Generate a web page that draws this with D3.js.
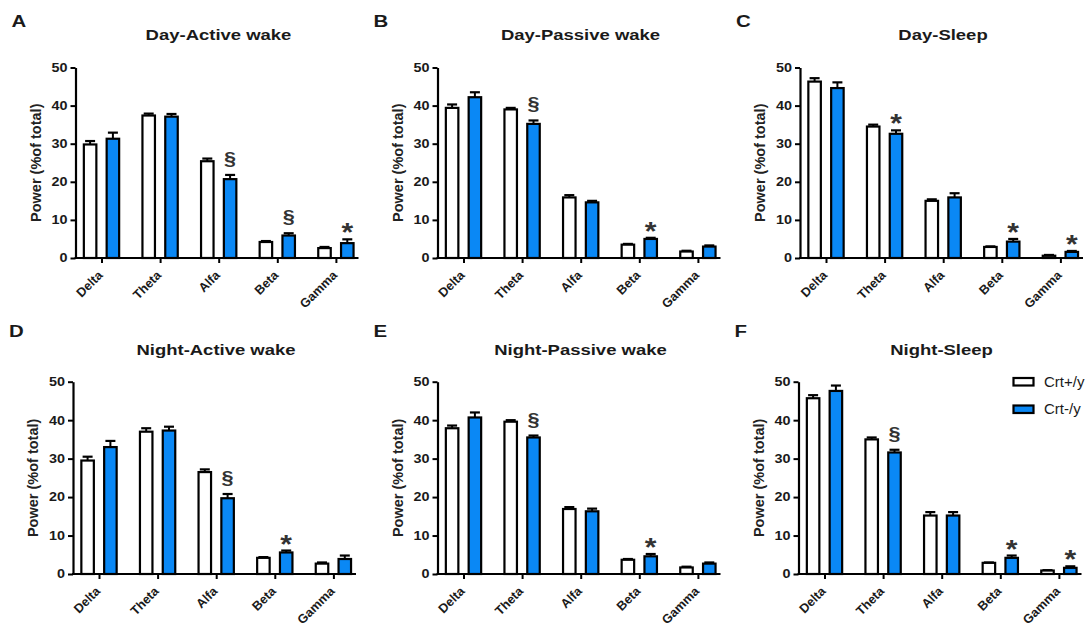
<!DOCTYPE html>
<html><head><meta charset="utf-8">
<script src="https://cdn.jsdelivr.net/npm/d3@7"></script>
<style>
body{margin:0;background:#fff;}
svg{display:block;font-family:"Liberation Sans",Arial,sans-serif;}
</style></head>
<body>
<svg id="chart" width="1091" height="628"></svg>
<script>
// ---------- data ----------
const categories = ["Delta", "Theta", "Alfa", "Beta", "Gamma"];
const panelLetters = ["A", "B", "C", "D", "E", "F"];
const panelTitles = ["Day-Active wake", "Day-Passive wake", "Day-Sleep",
                     "Night-Active wake", "Night-Passive wake", "Night-Sleep"];
const seriesNames = ["Crt+/y", "Crt-/y"];
const yTicks = [0, 10, 20, 30, 40, 50];
const yLabel = "Power (%of total)";

// Crt+/y mean and SEM per panel (A..F)
const crtPlusMean = [
  [29.8, 37.4, 25.4, 4.2, 2.6],
  [39.4, 39.0, 15.9, 3.5, 1.7],
  [46.3, 34.5, 15.0, 2.9, 0.6],
  [29.5, 37.0, 26.5, 4.2, 2.7],
  [37.9, 39.6, 16.9, 3.7, 1.7],
  [45.7, 35.0, 15.2, 2.9, 0.9]
];
const crtPlusSem = [
  [0.9, 0.5, 0.7, 0.25, 0.3],
  [0.9, 0.4, 0.6, 0.2, 0.2],
  [0.9, 0.5, 0.4, 0.15, 0.2],
  [1.0, 0.9, 0.7, 0.2, 0.3],
  [0.7, 0.4, 0.5, 0.2, 0.2],
  [0.8, 0.5, 0.9, 0.1, 0.1]
];
// Crt-/y mean and SEM per panel
const crtMinusMean = [
  [31.3, 37.1, 20.7, 5.9, 3.9],
  [42.2, 35.2, 14.6, 5.0, 3.0],
  [44.6, 32.6, 15.9, 4.3, 1.6],
  [33.0, 37.3, 19.7, 5.6, 3.9],
  [40.7, 35.5, 16.3, 4.6, 2.7],
  [47.6, 31.6, 15.2, 4.2, 1.6]
];
const crtMinusSem = [
  [1.6, 0.7, 1.1, 0.6, 1.0],
  [1.3, 0.9, 0.4, 0.3, 0.3],
  [1.5, 0.9, 1.1, 0.7, 0.25],
  [1.6, 1.0, 1.1, 0.5, 0.9],
  [1.3, 0.5, 0.7, 0.6, 0.3],
  [1.4, 0.7, 0.9, 0.6, 0.4]
];
// significance marks above Crt-/y bars
const sigMarks = [
  [null, null, "§", "§", "*"],
  [null, "§", null, "*", null],
  [null, "*", null, "*", "*"],
  [null, null, "§", "*", null],
  [null, "§", null, "*", null],
  [null, "§", null, "*", "*"]
];

// ---------- layout ----------
const colors = ["#ffffff", "#0a88f5"];
const SX = 1.2; // horizontal stretch of text in the reference
const axisX = [75.5, 437.5, 800, 73, 437.5, 798.5];
const rowY = [{top: 67.5, zero: 258}, {top: 381.7, zero: 574}];
const step = 58.6, firstOff = 26, axisLen = 283;
const barW = 12.5, barOff = 11.4, capW = 10;

const svg = d3.select("#chart");

function stretchedText(g, x, y, txt) {
  return g.append("text")
    .attr("transform", `translate(${x},${y}) scale(${SX},1)`)
    .text(txt);
}

panelLetters.forEach((letter, p) => {
  const row = p < 3 ? 0 : 1;
  const x0 = axisX[p];
  const y = d3.scaleLinear().domain([0, 50]).range([rowY[row].zero, rowY[row].top]);
  const x = d3.scalePoint().domain(categories)
    .range([x0 + firstOff, x0 + firstOff + step * (categories.length - 1)]);
  const g = svg.append("g");

  // panel letter
  stretchedText(g, x0 - 64, row === 0 ? 27 : 337, letter)
    .attr("font-size", 17).attr("font-weight", "bold").attr("fill", "#1a1a1a");
  // title
  stretchedText(g, x0 + 143, row === 0 ? 40 : 355, panelTitles[p])
    .attr("font-size", 15.4).attr("font-weight", "bold").attr("fill", "#1a1a1a")
    .attr("text-anchor", "middle");
  // y label
  g.append("text")
    .attr("transform", `translate(${x0 - 35},${(rowY[row].zero + rowY[row].top) / 2}) rotate(-90)`)
    .attr("text-anchor", "middle")
    .attr("font-size", 14.5).attr("font-weight", "bold").attr("fill", "#222")
    .text(yLabel);

  // bars
  const means = [crtPlusMean[p], crtMinusMean[p]];
  const sems = [crtPlusSem[p], crtMinusSem[p]];
  [0, 1].forEach(s => {
    const off = s === 0 ? -barOff : barOff;
    const data = categories.map((c, i) => ({c, v: means[s][i], e: sems[s][i]}));
    g.selectAll(null).data(data).enter().append("line")
      .attr("x1", d => x(d.c) + off).attr("x2", d => x(d.c) + off)
      .attr("y1", d => y(d.v)).attr("y2", d => y(d.v + d.e))
      .attr("stroke", "#000").attr("stroke-width", 2);
    g.selectAll(null).data(data).enter().append("line")
      .attr("x1", d => x(d.c) + off - capW / 2).attr("x2", d => x(d.c) + off + capW / 2)
      .attr("y1", d => y(d.v + d.e)).attr("y2", d => y(d.v + d.e))
      .attr("stroke", "#000").attr("stroke-width", 2.2);
    g.selectAll(null).data(data).enter().append("rect")
      .attr("x", d => x(d.c) + off - barW / 2)
      .attr("width", barW)
      .attr("y", d => y(d.v))
      .attr("height", d => y(0) - y(d.v))
      .attr("fill", colors[s]).attr("stroke", "#000").attr("stroke-width", 2.2);
  });

  // significance marks
  categories.forEach((c, i) => {
    const m = sigMarks[p][i];
    if (!m) return;
    const top = y(crtMinusMean[p][i] + crtMinusSem[p][i]);
    const cx = x(c) + barOff;
    if (m === "*") {
      stretchedText(g, cx, top + 2, "*")
        .attr("font-size", 25).attr("font-weight", "bold").attr("fill", "#333").attr("text-anchor", "middle");
    } else {
      stretchedText(g, cx, top - 10, "§")
        .attr("font-size", 18).attr("font-weight", "bold").attr("fill", "#333").attr("text-anchor", "middle");
    }
  });

  // y axis
  const ya = g.append("g").attr("transform", `translate(${x0},0)`)
    .call(d3.axisLeft(y).tickValues(yTicks).tickSize(5).tickPadding(3).tickSizeOuter(0));
  ya.select(".domain").attr("stroke", "#000").attr("stroke-width", 2.2);
  ya.selectAll(".tick line").attr("stroke", "#000").attr("stroke-width", 2);
  ya.selectAll(".tick text")
    .attr("font-family", null).attr("font-size", 12).attr("font-weight", "bold").attr("fill", "#1a1a1a")
    .attr("x", -8 / SX).attr("transform", `scale(${SX},1)`);

  // x axis
  const yz = rowY[row].zero;
  const xa = g.append("g").attr("transform", `translate(0,${yz})`)
    .call(d3.axisBottom(x).tickSize(5).tickSizeOuter(0));
  xa.select(".domain").remove();
  xa.selectAll(".tick line").attr("stroke", "#000").attr("stroke-width", 2);
  xa.selectAll(".tick text")
    .attr("font-family", null).attr("font-size", 12.7).attr("font-weight", "bold").attr("fill", "#1a1a1a")
    .attr("text-anchor", "end").attr("x", 0).attr("y", 0).attr("dy", 0)
    .attr("transform", "translate(1.5,18) rotate(-45)");
  g.append("line").attr("x1", x0 - 1).attr("x2", x0 + axisLen)
    .attr("y1", yz).attr("y2", yz).attr("stroke", "#000").attr("stroke-width", 2.2);
});

// legend (panel F)
const leg = svg.append("g");
seriesNames.forEach((n, i) => {
  const ly = 381.5 + i * 27.5;
  leg.append("rect").attr("x", 1013.5).attr("y", ly - 3.5).attr("width", 20).attr("height", 7.5)
    .attr("fill", colors[i]).attr("stroke", "#000").attr("stroke-width", 2.2);
  leg.append("text").attr("x", 1044).attr("y", ly + 5).attr("font-size", 15).attr("fill", "#1a1a1a")
    .text(n);
});
</script>
</body></html>
